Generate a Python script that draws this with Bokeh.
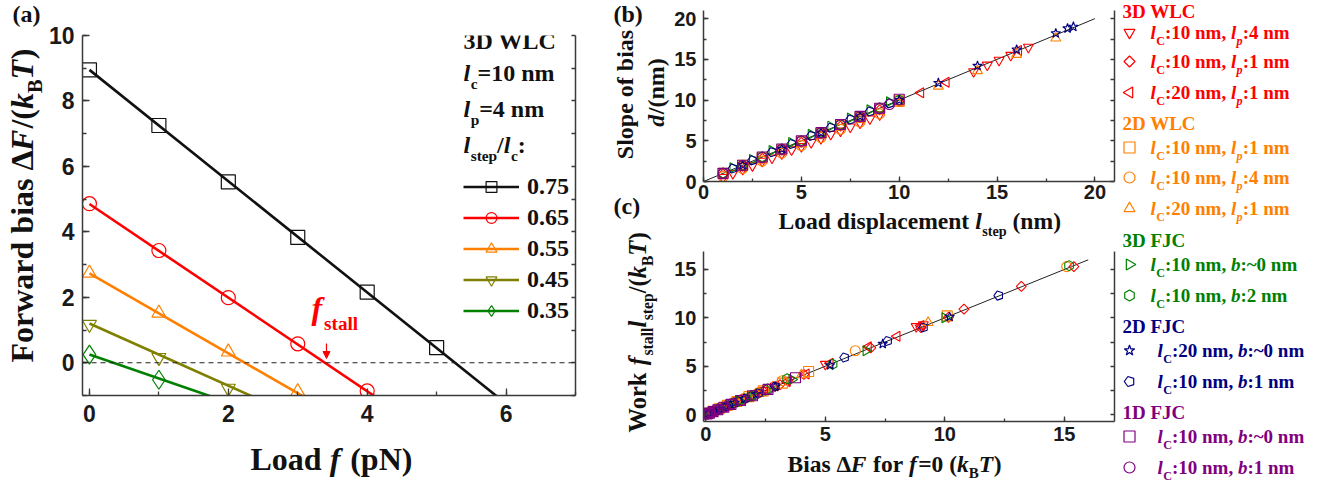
from math import pi
from bokeh.plotting import figure
from bokeh.layouts import row, column
from bokeh.models import (Range1d, LinearAxis, SingleIntervalTicker, FixedTicker, Label, Legend,
                          LegendItem, Span, Arrow, NormalHead, ColumnDataSource)
from bokeh.embed import file_html
from bokeh.resources import INLINE

# ============================ DATA ============================
# ---- panel (a): forward bias vs load, 3D WLC l_c = 10 nm, l_p = 4 nm
ratio_labels = ["0.75", "0.65", "0.55", "0.45", "0.35"]
load_075 = [0, 1, 2, 3, 4, 5]
bias_075 = [8.95, 7.25, 5.53, 3.83, 2.16, 0.46]
load_065 = [0, 1, 2, 3, 4]
bias_065 = [4.86, 3.43, 1.99, 0.58, -0.86]
load_055 = [0, 1, 2, 3]
bias_055 = [2.74, 1.52, 0.33, -0.88]
load_045 = [0, 1, 2]
bias_045 = [1.17, 0.16, -0.78]
load_035 = [0, 1]
bias_035 = [0.25, -0.52]
fit_intercept = [8.95, 4.85, 2.73, 1.20, 0.25]
fit_slope = [-1.70, -1.43, -1.22, -0.95, -0.73]
fit_load_span = [0.0, 7.0]

# ---- panel (b): slope of bias d vs load displacement l_step
b_x_wlc3_10_4 = [1, 1.5, 2, 2.5, 3, 3.5, 4, 4.5, 5, 5.5, 6, 6.5, 7, 7.5, 8, 8.5, 9, 13.8, 14.5, 15.1, 15.7, 16.6]
b_y_wlc3_10_4 = [0.5, 1.0, 1.5, 1.95, 2.5, 2.9, 3.4, 3.9, 4.3, 4.8, 5.3, 5.8, 6.2, 6.7, 7.2, 7.7, 8.2, 13.5, 14.3, 14.9, 15.5, 16.5]
b_x_wlc3_10_1 = [1, 2, 3, 4, 5, 6, 7, 8, 9, 10]
b_y_wlc3_10_1 = [0.9, 1.9, 2.85, 3.85, 4.8, 5.85, 6.8, 7.85, 8.8, 9.8]
b_x_wlc3_20_1 = [2, 4, 6, 8, 10, 11.1, 12.4, 16.1]
b_y_wlc3_20_1 = [1.9, 3.85, 5.8, 7.8, 9.8, 10.9, 12.2, 16.1]
b_x_wlc2_10_1 = [1, 2, 3, 4, 5, 6, 7, 8, 9, 10]
b_y_wlc2_10_1 = [1.0, 2.0, 2.9, 3.9, 4.9, 5.9, 6.9, 7.9, 8.9, 9.9]
b_x_wlc2_10_4 = [1, 2, 3, 4, 5, 6, 7, 8, 9]
b_y_wlc2_10_4 = [0.6, 1.6, 2.5, 3.5, 4.4, 5.4, 6.4, 7.3, 8.3]
b_x_wlc2_20_1 = [2, 4, 6, 8, 10, 12, 14, 16, 18]
b_y_wlc2_20_1 = [1.8, 3.8, 5.7, 7.7, 9.6, 11.7, 13.6, 15.6, 17.6]
b_x_fjc3_10_0 = [1.5, 2.5, 3.5, 4.5, 5.5, 6.5, 7.5, 8.5, 9.5]
b_y_fjc3_10_0 = [1.7, 2.7, 3.8, 4.8, 5.8, 6.8, 7.8, 8.8, 9.8]
b_x_fjc3_10_2 = [1, 2, 3, 4, 5, 6, 7, 8, 9, 10]
b_y_fjc3_10_2 = [1.05, 2.0, 3.05, 4.0, 5.0, 6.05, 7.0, 8.0, 9.05, 10.0]
b_x_fjc2_20_0 = [2, 4, 6, 8, 10, 12, 14, 16, 18, 18.6, 18.9]
b_y_fjc2_20_0 = [2.0, 4.0, 6.0, 8.0, 10.0, 12.1, 14.2, 16.2, 18.2, 18.8, 19.0]
b_x_fjc2_10_1 = [1.5, 2.5, 3.5, 4.5, 5.5, 6.5, 7.5, 8.5, 9.5]
b_y_fjc2_10_1 = [1.6, 2.6, 3.6, 4.6, 5.6, 6.6, 7.6, 8.6, 9.6]
b_x_fjc1_10_0 = [1, 2, 3, 4, 5, 6, 7, 8, 9, 10]
b_y_fjc1_10_0 = [1.0, 2.0, 3.0, 4.0, 5.0, 6.0, 7.0, 8.0, 9.0, 10.1]
b_x_fjc1_10_1 = [1, 2, 3, 4, 5, 6, 7, 8, 9, 9.5]
b_y_fjc1_10_1 = [1.0, 1.95, 2.95, 3.95, 4.95, 5.95, 6.95, 7.95, 8.95, 9.45]
b_fit_x = [0, 20]
b_fit_y = [0, 20]

# ---- panel (c): work f_stall*l_step vs bias at f = 0
c_x_wlc3_10_4 = [0.08, 0.18, 0.3, 0.45, 0.62, 0.82, 1.05, 1.3, 1.6, 1.95, 2.4, 2.9, 3.5, 5.0, 8.8, 9.1]
c_y_wlc3_10_4 = [0.12, 0.22, 0.36, 0.52, 0.70, 0.90, 1.15, 1.40, 1.70, 2.05, 2.50, 2.95, 3.55, 5.20, 9.10, 9.30]
c_x_wlc3_10_1 = [0.1, 0.22, 0.4, 0.6, 0.85, 1.15, 1.5, 1.9, 2.4, 3.1, 4.1, 6.9, 9.0, 10.15, 10.8, 13.2, 15.4]
c_y_wlc3_10_1 = [0.15, 0.28, 0.45, 0.66, 0.92, 1.22, 1.55, 1.96, 2.45, 3.10, 4.15, 6.90, 9.00, 10.05, 10.90, 13.25, 15.30]
c_x_wlc3_20_1 = [0.12, 0.28, 0.5, 0.75, 1.05, 1.4, 1.8, 2.3, 2.9, 3.4, 4.2, 5.2, 6.8, 8.0, 9.0]
c_y_wlc3_20_1 = [0.18, 0.35, 0.58, 0.82, 1.12, 1.46, 1.85, 2.35, 2.95, 3.40, 4.20, 5.30, 7.00, 8.10, 9.20]
c_x_wlc2_10_1 = [0.1, 0.3, 0.55, 0.9, 1.3, 1.8, 2.4, 3.2, 4.3, 10.1]
c_y_wlc2_10_1 = [0.12, 0.33, 0.6, 0.95, 1.35, 1.85, 2.45, 3.25, 4.45, 10.2]
c_x_wlc2_10_4 = [0.15, 0.4, 0.7, 1.1, 1.6, 2.2, 3.2, 6.25, 15.1]
c_y_wlc2_10_4 = [0.2, 0.45, 0.75, 1.15, 1.65, 2.25, 3.5, 6.6, 15.3]
c_x_wlc2_20_1 = [0.12, 0.35, 0.65, 1.0, 1.5, 2.1, 2.8, 4.0, 9.3]
c_y_wlc2_20_1 = [0.16, 0.4, 0.7, 1.05, 1.55, 2.15, 2.85, 4.1, 9.5]
c_x_fjc3_10_0 = [0.1, 0.3, 0.6, 0.95, 1.4, 2.0, 2.7, 3.6, 6.7, 10.0]
c_y_fjc3_10_0 = [0.12, 0.3, 0.62, 0.95, 1.42, 2.0, 2.68, 3.62, 6.6, 10.0]
c_x_fjc3_10_2 = [0.2, 0.5, 0.9, 1.35, 1.9, 2.5, 3.4, 5.3, 15.2]
c_y_fjc3_10_2 = [0.2, 0.5, 0.92, 1.35, 1.9, 2.5, 3.7, 5.2, 15.4]
c_x_fjc2_20_0 = [0.1, 0.3, 0.55, 0.85, 1.2, 1.6, 2.1, 2.9, 5.2, 7.4, 10.2]
c_y_fjc2_20_0 = [0.1, 0.3, 0.56, 0.85, 1.2, 1.62, 2.1, 2.9, 5.1, 7.3, 10.1]
c_x_fjc2_10_1 = [0.15, 0.4, 0.75, 1.15, 1.65, 2.2, 2.9, 5.8, 7.6, 9.1, 12.25]
c_y_fjc2_10_1 = [0.15, 0.4, 0.76, 1.15, 1.65, 2.2, 2.9, 5.9, 7.6, 9.0, 12.3]
c_x_fjc1_10_0 = [0.05, 0.15, 0.3, 0.5, 0.75, 1.05, 1.45, 1.95, 2.6, 3.75]
c_y_fjc1_10_0 = [0.05, 0.15, 0.3, 0.5, 0.76, 1.05, 1.45, 1.95, 2.6, 3.8]
c_x_fjc1_10_1 = [0.04, 0.1, 0.2, 0.35, 0.55, 0.8, 1.1, 1.5, 2.0, 2.6]
c_y_fjc1_10_1 = [0.04, 0.1, 0.21, 0.35, 0.55, 0.8, 1.1, 1.5, 2.0, 2.6]
c_fit_x = [0, 16]
c_fit_y = [0, 16]

# ============================ STYLE ============================
SERIF = "Liberation Serif"
SANS = "Liberation Sans"
RED, ORANGE, OLIVE, GREEN, NAVY, PURPLE = "#FF0000", "#FF8000", "#808000", "#008000", "#000080", "#800080"
AXC = "#3a3a3a"
MID = 0.3375          # baseline-to-middle distance of Liberation Serif, in em

# Times-Bold / Times-BoldItalic advance widths (1/1000 em)
W_B = dict(zip(" !()/:=,.~-", [250, 333, 333, 333, 278, 333, 570, 250, 250, 520, 333]))
W_B.update({d: 500 for d in "0123456789"})
W_B.update(dict(A=722, B=667, C=722, D=722, F=611, J=500, L=667, N=722, T=667, W=1000, S=556))
W_B.update(dict(a=500, b=556, c=444, d=556, e=444, f=333, i=278, k=556, l=278, m=833, n=556,
                o=500, p=556, r=444, s=389, t=333, w=722))
W_B["Δ"] = 612
W_BI = dict(W_B)
W_BI.update(dict(B=667, C=667, F=667, T=611, b=500, d=500, f=333, k=500, l=278, p=500))
ITALIC_EXTRA = dict(f=0.06, F=0.03, T=0.02, l=0.02, d=0.02)


def twidth(s, italic, size):
    tab = W_BI if italic else W_B
    w = sum(tab.get(ch, 500) for ch in s) * size / 1000.0
    if italic and s:
        w += ITALIC_EXTRA.get(s[-1], 0.0) * size
    return w


def geo_of(ox, oy, width, height, bl, br, bt, bb, xr, yr):
    return dict(left=ox + bl, top=oy + bt, w=width - bl - br, h=height - bt - bb,
                x0=xr[0], x1=xr[1], y0=yr[0], y1=yr[1])


def to_data(g, px, py):
    x = g["x0"] + (px - g["left"]) / g["w"] * (g["x1"] - g["x0"])
    y = g["y1"] - (py - g["top"]) / g["h"] * (g["y1"] - g["y0"])
    return x, y


def rich(fig, g, x, y, runs, size, color="#111111", vertical=False, align="left",
         sub_scale=0.64, sub_drop=0.3):
    """Lay out mixed-style runs; (x, y) is the page position of the baseline start."""
    widths = []
    for txt, st in runs:
        fs = size * sub_scale if st.startswith("sub") else size
        widths.append(twidth(txt, st in ("bi", "subi"), fs))
    total = sum(widths)
    pos = -total / 2 if align == "center" else 0.0
    for (txt, st), wd in zip(runs, widths):
        is_sub = st.startswith("sub")
        italic = st in ("bi", "subi")
        fs = size * sub_scale if is_sub else size
        lead = len(txt) - len(txt.lstrip(" "))
        shown = txt.strip(" ")
        start = pos + lead * W_B[" "] * fs / 1000.0
        drop = (size * sub_drop if is_sub else 0.0) - MID * fs
        if vertical:
            px, py = x + drop, y - start
        else:
            px, py = x + start, y + drop
        dx, dy = to_data(g, px, py)
        fig.add_layout(Label(x=dx, y=dy, text=shown, text_font=SERIF, text_font_size=f"{fs:.1f}px",
                             text_font_style="bold italic" if italic else "bold",
                             text_color=color, text_align="left", text_baseline="middle",
                             angle=pi / 2 if vertical else 0))
        pos += wd


def make_fig(g, width, height, bl, br, bt, bb):
    p = figure(width=width, height=height, x_range=Range1d(g["x0"], g["x1"]),
               y_range=Range1d(g["y0"], g["y1"]), x_axis_type=None, y_axis_type=None,
               output_backend="svg", toolbar_location=None, title=None,
               min_border_left=bl, min_border_right=br, min_border_top=bt, min_border_bottom=bb)
    p.outline_line_color = None
    p.background_fill_color = "white"
    p.border_fill_color = "white"
    return p


def text_fig(ox, oy, width, height, bl=0, br=0, bt=0, bb=0):
    fw, fh = width - bl - br, height - bt - bb
    g = geo_of(ox, oy, width, height, bl, br, bt, bb, (0.0, float(fw)), (float(fh), 0.0))
    return make_fig(g, width, height, bl, br, bt, bb), g


def add_axis(p, side, interval, label_px, tick_in, minor_in, standoff=8, lw=1.5):
    ax = LinearAxis(ticker=SingleIntervalTicker(interval=interval, num_minor_ticks=2))
    ax.axis_line_color = AXC
    ax.axis_line_width = lw
    ax.major_tick_line_color = AXC
    ax.minor_tick_line_color = AXC
    ax.major_tick_line_width = 1.3
    ax.minor_tick_line_width = 1.3
    ax.major_tick_in = tick_in
    ax.major_tick_out = 0
    ax.minor_tick_in = minor_in
    ax.minor_tick_out = 0
    ax.major_label_text_font = SANS
    ax.major_label_text_font_style = "bold"
    ax.major_label_text_color = "#1a1a1a"
    ax.major_label_text_font_size = f"{label_px}px"
    ax.major_label_standoff = standoff
    p.add_layout(ax, side)
    return ax


def add_plain_axis(p, side, tick_positions, tick_len, lw=1.5):
    ax = LinearAxis(ticker=FixedTicker(ticks=[], minor_ticks=tick_positions))
    ax.axis_line_color = AXC
    ax.axis_line_width = lw
    ax.minor_tick_line_color = AXC
    ax.minor_tick_line_width = 1.3
    ax.minor_tick_in = tick_len
    ax.minor_tick_out = 0
    ax.major_tick_in = 0
    ax.major_tick_out = 0
    ax.major_label_standoff = 0
    p.add_layout(ax, side)
    return ax


def scatter_kw(marker, size):
    if marker == "rdiamond":
        return dict(marker="square", angle=pi / 4, size=size / 1.41)
    if marker == "tri_left":
        return dict(marker="triangle", angle=pi / 2, size=size)
    if marker == "tri_right":
        return dict(marker="triangle", angle=-pi / 2, size=size)
    if marker == "hex":
        return dict(marker="hex", angle=pi / 6, size=size)
    return dict(marker=marker, size=size)


def draw_points(p, xs, ys, marker, color, size, lw=1.1):
    if marker == "pentagon":
        try:
            from bokeh.models import Ngon
            src = ColumnDataSource(dict(x=xs, y=ys))
            glyph = Ngon(x="x", y="y", radius=size / 2.1, radius_units="screen", n=5,
                         angle=pi / 2, fill_color=None, line_color=color, line_width=lw)
            return p.add_glyph(src, glyph)
        except Exception:
            marker = "hex"
    return p.scatter(xs, ys, fill_color=None, line_color=color, line_width=lw,
                     **scatter_kw(marker, size))


# ============================ LAYOUT GEOMETRY (page px) ============================
TOTAL_W, TOTAL_H = 1328, 487
AL_W = 45
A_W, A_H, A_BL, A_BR, A_BT, A_BB = 555, 440, 37, 25, 35, 45
AB_H = TOTAL_H - A_H
BCL_X, BCL_W = 600, 70
BC_X, BC_W, BC_BL, BC_BR = 670, 448, 33, 4
PB_H, PB_BT, PB_BB = 207, 10, 26
BX_H = 34
PC_Y, PC_H, PC_BT, PC_BB = 241, 209, 10, 29
CX_Y, CX_H = 450, 37
L_X, L_W = 1118, 210

# ============================ PANEL (a) ============================
ga = geo_of(AL_W, 0, A_W, A_H, A_BL, A_BR, A_BT, A_BB, (-0.1, 7.0), (-1.0, 10.0))
pa = make_fig(ga, A_W, A_H, A_BL, A_BR, A_BT, A_BB)
add_axis(pa, "below", 2, 23, 7, 4, standoff=9)
add_axis(pa, "left", 2, 23, 7, 4, standoff=8)
add_plain_axis(pa, "right", list(range(-1, 11)), 4)

pa.add_layout(Span(location=0, dimension="width", line_color="#222222", line_width=1.2,
                   line_dash="5 4"))

a_loads = [load_075, load_065, load_055, load_045, load_035]
a_bias = [bias_075, bias_065, bias_055, bias_045, bias_035]
a_colors = ["#111111", RED, ORANGE, OLIVE, GREEN]
a_markers = ["square", "circle", "triangle", "inverted_triangle", "diamond"]
a_sizes = [14, 14, 14, 14, 19]
items = []
for lab, xs, ys, c, m, s, b0, k in zip(ratio_labels, a_loads, a_bias, a_colors, a_markers, a_sizes,
                                       fit_intercept, fit_slope):
    ln = pa.line(fit_load_span, [b0 + k * v for v in fit_load_span], line_color=c, line_width=2.6)
    sc = pa.scatter(xs, ys, fill_color=None, line_color=c, line_width=1.2, marker=m, size=s)
    items.append(LegendItem(label=lab, renderers=[ln, sc]))

leg = Legend(items=items, location=(381, 71), glyph_width=56, glyph_height=27, spacing=4,
             label_standoff=8, padding=0, margin=0, border_line_color=None,
             background_fill_alpha=0, label_text_font=SERIF, label_text_font_style="bold",
             label_text_font_size="24px", label_text_color="#111111", label_height=27)
pa.add_layout(leg)

rich(pa, ga, 311, 318, [("f", "bi"), ("stall", "sub")], 32, color=RED, sub_scale=0.6, sub_drop=0.37)
ax0, ay0 = to_data(ga, 326, 343)
ax1, ay1 = to_data(ga, 326, 358)
pa.add_layout(Arrow(end=NormalHead(size=7, fill_color=RED, line_color=RED, line_width=1),
                    x_start=ax0, y_start=ay0, x_end=ax1, y_end=ay1, line_color=RED, line_width=1.2))

rich(pa, ga, 463, 48.5, [("3D WLC", "b")], 24)
rich(pa, ga, 463, 81, [("l", "bi"), ("c", "sub"), ("=10 nm", "b")], 24)
rich(pa, ga, 463, 117, [("l", "bi"), ("p", "sub"), ("=4 nm", "b")], 24)
rich(pa, ga, 463, 153, [("l", "bi"), ("step", "sub"), ("/", "b"), ("l", "bi"), ("c", "sub"),
                        (":", "b")], 24)

p_al, g_al = text_fig(0, 0, AL_W, TOTAL_H)
rich(p_al, g_al, 12, 21.5, [("(a)", "b")], 24)
rich(p_al, g_al, 32, 362, [("Forward bias Δ", "b"), ("F", "bi"), ("/(", "b"), ("k", "bi"),
                           ("B", "sub"), ("T", "bi"), (")", "b")], 32, vertical=True)
p_ab, g_ab = text_fig(AL_W, A_H, A_W, AB_H, bl=A_BL, br=A_BR)
rich(p_ab, g_ab, 250, 469, [("Load ", "b"), ("f", "bi"), (" (pN)", "b")], 32)

# ============================ PANEL (b) ============================
gb = geo_of(BC_X, 0, BC_W, PB_H, BC_BL, BC_BR, PB_BT, PB_BB, (0.0, 21.0), (0.0, 21.0))
pb = make_fig(gb, BC_W, PB_H, BC_BL, BC_BR, PB_BT, PB_BB)
add_axis(pb, "below", 5, 20, 5, 3, standoff=3)
add_axis(pb, "left", 5, 20, 5, 3, standoff=7)
add_plain_axis(pb, "right", [v * 2.5 for v in range(0, 9)], 4)
pb.line(b_fit_x, b_fit_y, line_color="#222222", line_width=1)

# ============================ PANEL (c) ============================
gc = geo_of(BC_X, PC_Y, BC_W, PC_H, BC_BL, BC_BR, PC_BT, PC_BB, (-0.1, 17.1), (-0.72, 16.86))
pc = make_fig(gc, BC_W, PC_H, BC_BL, BC_BR, PC_BT, PC_BB)
add_axis(pc, "below", 5, 20, 5, 3, standoff=5)
add_axis(pc, "left", 5, 20, 5, 3, standoff=7)
add_plain_axis(pc, "right", [v * 2.5 for v in range(0, 7)], 4)
pc.line(c_fit_x, c_fit_y, line_color="#222222", line_width=1)

series_markers = ["inverted_triangle", "rdiamond", "tri_left", "square", "circle", "triangle",
                  "tri_right", "hex", "star", "pentagon", "square", "circle"]
series_colors = [RED, RED, RED, ORANGE, ORANGE, ORANGE, GREEN, GREEN, NAVY, NAVY, PURPLE, PURPLE]
b_xs = [b_x_wlc3_10_4, b_x_wlc3_10_1, b_x_wlc3_20_1, b_x_wlc2_10_1, b_x_wlc2_10_4, b_x_wlc2_20_1,
        b_x_fjc3_10_0, b_x_fjc3_10_2, b_x_fjc2_20_0, b_x_fjc2_10_1, b_x_fjc1_10_0, b_x_fjc1_10_1]
b_ys = [b_y_wlc3_10_4, b_y_wlc3_10_1, b_y_wlc3_20_1, b_y_wlc2_10_1, b_y_wlc2_10_4, b_y_wlc2_20_1,
        b_y_fjc3_10_0, b_y_fjc3_10_2, b_y_fjc2_20_0, b_y_fjc2_10_1, b_y_fjc1_10_0, b_y_fjc1_10_1]
c_xs = [c_x_wlc3_10_4, c_x_wlc3_10_1, c_x_wlc3_20_1, c_x_wlc2_10_1, c_x_wlc2_10_4, c_x_wlc2_20_1,
        c_x_fjc3_10_0, c_x_fjc3_10_2, c_x_fjc2_20_0, c_x_fjc2_10_1, c_x_fjc1_10_0, c_x_fjc1_10_1]
c_ys = [c_y_wlc3_10_4, c_y_wlc3_10_1, c_y_wlc3_20_1, c_y_wlc2_10_1, c_y_wlc2_10_4, c_y_wlc2_20_1,
        c_y_fjc3_10_0, c_y_fjc3_10_2, c_y_fjc2_20_0, c_y_fjc2_10_1, c_y_fjc1_10_0, c_y_fjc1_10_1]
for m, c, bx, by, cx, cy in zip(series_markers, series_colors, b_xs, b_ys, c_xs, c_ys):
    draw_points(pb, bx, by, m, c, 10)
    draw_points(pc, cx, cy, m, c, 10)

p_bcl, g_bcl = text_fig(BCL_X, 0, BCL_W, TOTAL_H)
rich(p_bcl, g_bcl, 613, 21.5, [("(b)", "b")], 24)
rich(p_bcl, g_bcl, 633, 94, [("Slope of bias", "b")], 24, vertical=True, align="center")
rich(p_bcl, g_bcl, 664, 92, [("d", "bi"), ("/(nm)", "b")], 24, vertical=True, align="center")
rich(p_bcl, g_bcl, 613, 214, [("(c)", "b")], 24)
rich(p_bcl, g_bcl, 645, 432, [("Work ", "b"), ("f", "bi"), ("stall", "sub"), ("l", "bi"),
                              ("step", "sub"), ("/(", "b"), ("k", "bi"), ("B", "sub"), ("T", "bi"),
                              (")", "b")], 24.5, vertical=True)
p_bx, g_bx = text_fig(BC_X, PB_H, BC_W, BX_H, bl=BC_BL, br=BC_BR)
rich(p_bx, g_bx, 778, 228, [("Load displacement ", "b"), ("l", "bi"), ("step", "sub"),
                            (" (nm)", "b")], 23.6, sub_scale=0.6)
p_cx, g_cx = text_fig(BC_X, CX_Y, BC_W, CX_H, bl=BC_BL, br=BC_BR)
rich(p_cx, g_cx, 787, 471, [("Bias Δ", "b"), ("F", "bi"), (" for ", "b"), ("f", "bi"),
                            ("=0 (", "b"), ("k", "bi"), ("B", "sub"), ("T", "bi"), (")", "b")], 23.5)

# ============================ LEGEND COLUMN ============================
pl, gl = text_fig(L_X, 0, L_W, TOTAL_H)

group_names = ["3D WLC", "2D WLC", "3D FJC", "2D FJC", "1D FJC"]
group_colors = [RED, ORANGE, GREEN, NAVY, PURPLE]
group_head_y = [17.5, 129.5, 246, 332.5, 418.5]
item_y = [32, 61, 92, 147, 177, 208, 264, 295, 350, 381, 436, 467]
item_text_x = [1150] * 8 + [1157] * 4
item_runs = [
    [("l", "bi"), ("C", "sub"), (":10 nm, ", "b"), ("l", "bi"), ("p", "subi"), (":4 nm", "b")],
    [("l", "bi"), ("C", "sub"), (":10 nm, ", "b"), ("l", "bi"), ("p", "subi"), (":1 nm", "b")],
    [("l", "bi"), ("C", "sub"), (":20 nm, ", "b"), ("l", "bi"), ("p", "subi"), (":1 nm", "b")],
    [("l", "bi"), ("C", "sub"), (":10 nm, ", "b"), ("l", "bi"), ("p", "subi"), (":1 nm", "b")],
    [("l", "bi"), ("C", "sub"), (":10 nm, ", "b"), ("l", "bi"), ("p", "subi"), (":4 nm", "b")],
    [("l", "bi"), ("C", "sub"), (":20 nm, ", "b"), ("l", "bi"), ("p", "subi"), (":1 nm", "b")],
    [("l", "bi"), ("C", "sub"), (":10 nm, ", "b"), ("b", "bi"), (":~0 nm", "b")],
    [("l", "bi"), ("C", "sub"), (":10 nm, ", "b"), ("b", "bi"), (":2 nm", "b")],
    [("l", "bi"), ("C", "sub"), (":20 nm, ", "b"), ("b", "bi"), (":~0 nm", "b")],
    [("l", "bi"), ("C", "sub"), (":10 nm, ", "b"), ("b", "bi"), (":1 nm", "b")],
    [("l", "bi"), ("C", "sub"), (":10 nm, ", "b"), ("b", "bi"), (":~0 nm", "b")],
    [("l", "bi"), ("C", "sub"), (":10 nm, ", "b"), ("b", "bi"), (":1 nm", "b")],
]
for name, col, hy in zip(group_names, group_colors, group_head_y):
    rich(pl, gl, 1122, hy, [(name, "b")], 19, color=col)
for m, col, yy, tx, runs in zip(series_markers, series_colors, item_y, item_text_x, item_runs):
    kx, ky = to_data(gl, 1129, yy)
    draw_points(pl, [kx], [ky], m, col, 11, lw=1.2)
    rich(pl, gl, tx, yy + 6.5, runs, 19, color=col)

layout = row(p_al, column(pa, p_ab), p_bcl, column(pb, p_bx, pc, p_cx), pl)
open("out.html", "w").write(file_html(layout, INLINE))
